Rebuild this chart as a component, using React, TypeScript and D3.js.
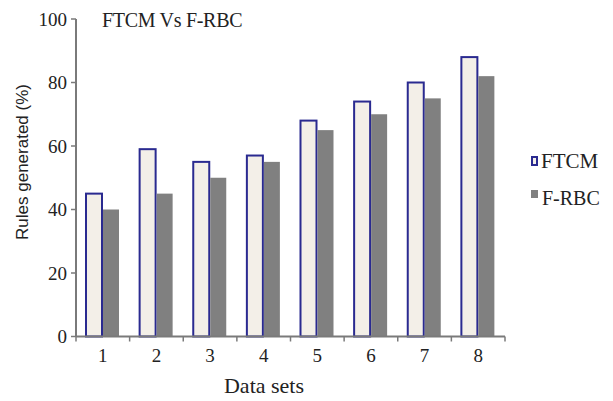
import React from "react";
import * as d3 from "d3";

const dataSets = ["1", "2", "3", "4", "5", "6", "7", "8"];
const ftcmValues = [45, 59, 55, 57, 68, 74, 80, 88];
const frbcValues = [40, 45, 50, 55, 65, 70, 75, 82];
const yTicks = [0, 20, 40, 60, 80, 100];

const W = 613;
const H = 401;
const font = "'Liberation Serif', 'Times New Roman', serif";
const sans = "'Liberation Sans', Arial, sans-serif";
const axisColor = "#7a7a7a";

export default function App() {
  const x = d3.scaleBand().domain(dataSets).range([76, 505]);
  const y = d3.scaleLinear().domain([0, 100]).range([336.5, 19]);
  const bw = 16;
  const off = 10;

  return (
    <svg width={W} height={H} style={{ position: "absolute", left: 0, top: 0, background: "#fff" }}>
      {/* bars */}
      {dataSets.map((d, i) => {
        const x0 = (x(d) ?? 0) + off;
        return (
          <g key={d}>
            <rect
              x={x0}
              y={y(ftcmValues[i])}
              width={bw}
              height={y(0) - y(ftcmValues[i])}
              fill="#f3efe8"
              stroke="#2a2a90"
              strokeWidth={2}
            />
            <rect
              x={x0 + bw + 1}
              y={y(frbcValues[i])}
              width={bw}
              height={y(0) - y(frbcValues[i])}
              fill="#808080"
            />
          </g>
        );
      })}

      {/* y axis */}
      <line x1={76} x2={76} y1={y(100)} y2={y(0)} stroke={axisColor} strokeWidth={2} />
      {yTicks.map((t) => (
        <g key={t}>
          <line x1={71} x2={76} y1={y(t)} y2={y(t)} stroke={axisColor} strokeWidth={1.5} />
          <text x={67} y={y(t)} dy="0.35em" textAnchor="end" fontFamily={font} fontSize={19} fill="#222">
            {t}
          </text>
        </g>
      ))}

      {/* x axis */}
      <line x1={76} x2={505} y1={y(0)} y2={y(0)} stroke={axisColor} strokeWidth={2} />
      {[...dataSets.map((d) => x(d) ?? 0), 505].map((px, i) => (
        <line key={i} x1={px} x2={px} y1={y(0)} y2={y(0) + 5} stroke={axisColor} strokeWidth={1.5} />
      ))}
      {dataSets.map((d) => (
        <text
          key={d}
          x={(x(d) ?? 0) + x.bandwidth() / 2}
          y={362}
          textAnchor="middle"
          fontFamily={font}
          fontSize={19}
          fill="#222"
        >
          {d}
        </text>
      ))}

      {/* title & labels */}
      <text x={102} y={27} fontFamily={font} fontSize={20} letterSpacing={-0.3} fill="#222">
        FTCM Vs F-RBC
      </text>
      <text
        transform={`translate(28, 162) rotate(-90)`}
        textAnchor="middle"
        fontFamily={sans}
        fontSize={17}
        fill="#222"
      >
        Rules generated (%)
      </text>
      <text x={264} y={393} textAnchor="middle" fontFamily={font} fontSize={22} fill="#222">
        Data sets
      </text>

      {/* legend */}
      <rect x={532} y={157} width={5} height={8} fill="#f3efe8" stroke="#2a2a90" strokeWidth={2} />
      <text x={541} y={168} fontFamily={font} fontSize={21} fill="#222">
        FTCM
      </text>
      <rect x={531} y={190} width={7} height={8} fill="#808080" />
      <text x={542} y={205} fontFamily={font} fontSize={20} fill="#222">
        F-RBC
      </text>
    </svg>
  );
}
